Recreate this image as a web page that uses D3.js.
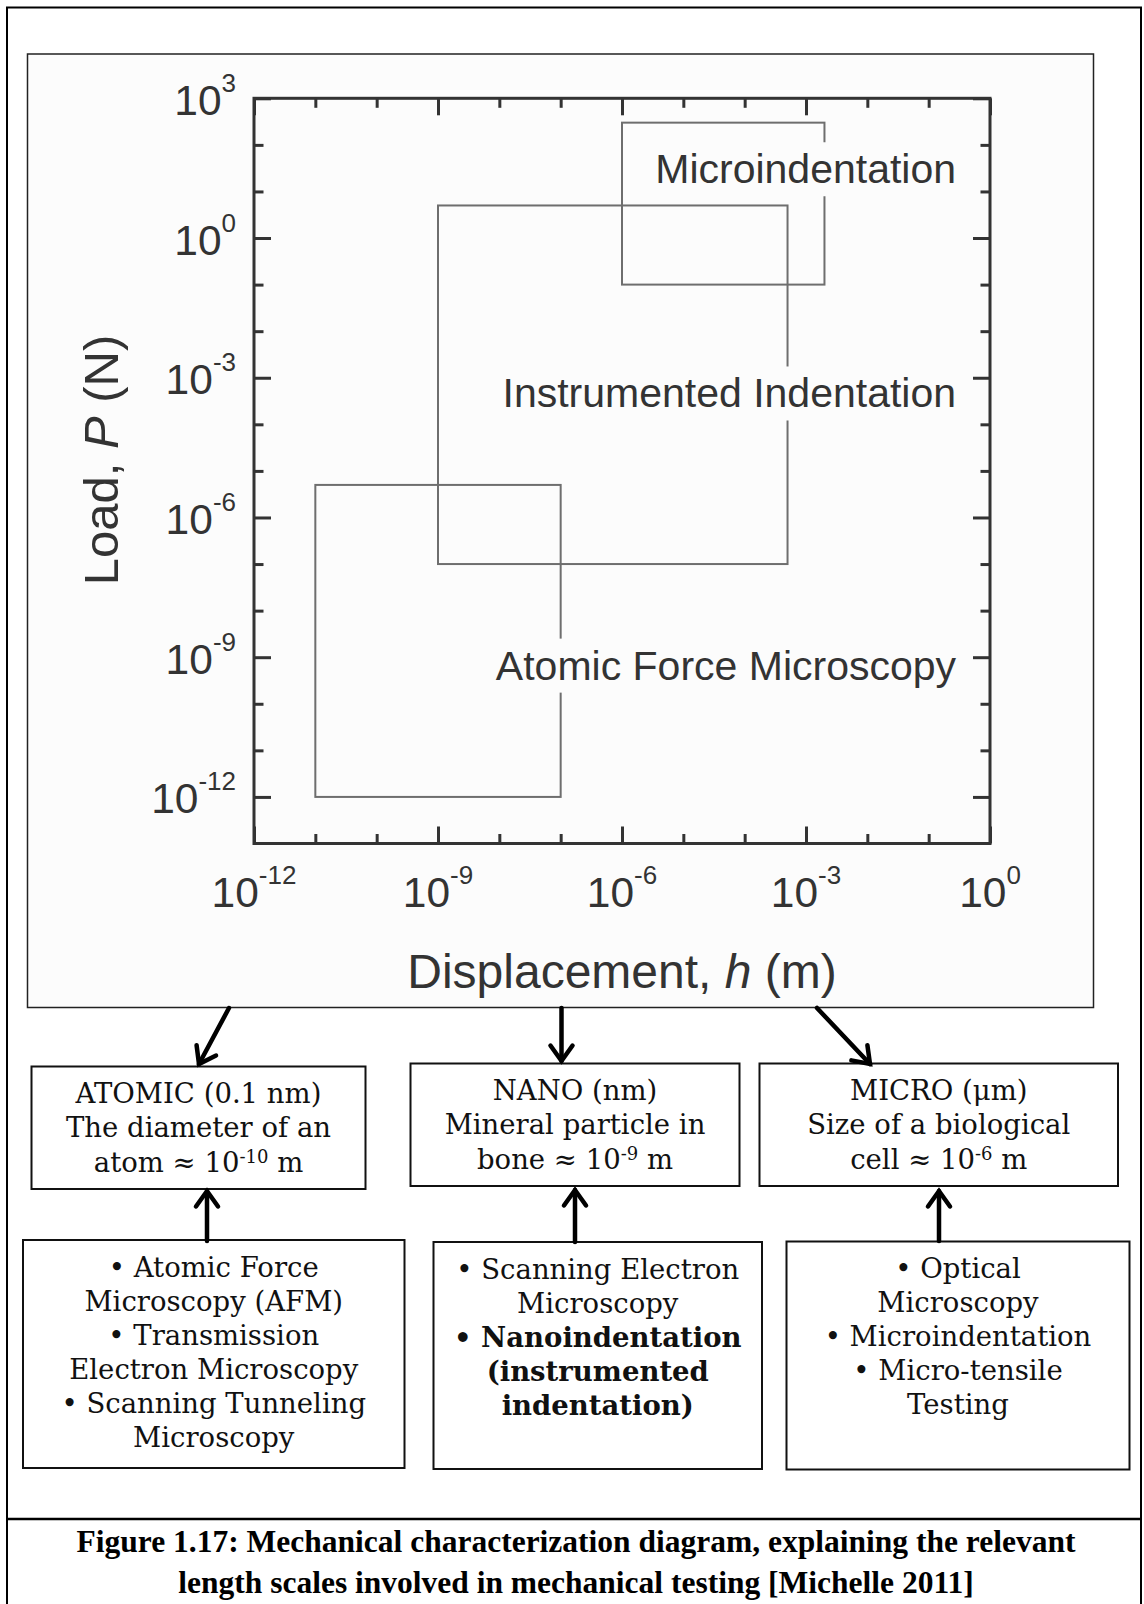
<!DOCTYPE html>
<html>
<head>
<meta charset="utf-8">
<script src="https://cdn.jsdelivr.net/npm/d3@7"></script>
<style>
  body { margin: 0; background: #fff; }
  svg { display: block; }
</style>
</head>
<body>
<div id="chart"></div>
<script>
// ---- data ----
// measurement regions on the load / displacement map
const regions = ["Atomic Force Microscopy", "Instrumented Indentation", "Microindentation"];
const hMin = [1e-11, 1e-9, 1e-6];     // displacement (m)
const hMax = [1e-7, 5e-4, 2e-3];
const pMin = [1e-12, 1e-7, 1e-1];     // load (N)
const pMax = [5e-6, 5, 300];
const labelP = [3.3e-10, 2.3e-4, 15]; // baseline of each region label
const labelH = 0.28;                  // right end of labels

// tick exponents
const xMajorExp = [-12, -9, -6, -3, 0];
const xMinorExp = [-11, -10, -8, -7, -5, -4, -2, -1];
const yMajorExp = [-12, -9, -6, -3, 0, 3];
const yMinorExp = [2, 1, -1, -2, -4, -5, -7, -8, -10, -11];

// length scale boxes
const scaleNames = ["ATOMIC (0.1 nm)", "NANO (nm)", "MICRO (\u03bcm)"];
const scaleLine2 = ["The diameter of an", "Mineral particle in", "Size of a biological"];
const scaleLine3 = ["atom \u2248 10", "bone \u2248 10", "cell \u2248 10"];
const scaleExp = ["-10", "-9", "-6"];

// techniques
const methods = [
  ["\u2022 Atomic Force", "Microscopy (AFM)", "\u2022 Transmission", "Electron Microscopy", "\u2022 Scanning Tunneling", "Microscopy"],
  ["\u2022 Scanning Electron", "Microscopy", "\u2022 Nanoindentation", "(instrumented", "indentation)"],
  ["\u2022 Optical", "Microscopy", "\u2022 Microindentation", "\u2022 Micro-tensile", "Testing"]
];
const methodBold = [[], [2, 3, 4], []];

const caption = [
  "Figure 1.17: Mechanical characterization diagram, explaining the relevant",
  "length scales involved in mechanical testing [Michelle 2011]"
];

// ---- layout ----
const W = 1144, H = 1604;
const sans = "'Liberation Sans', Arial, sans-serif";
const serif = "'DejaVu Serif', serif";
const ink = "#333";
const boxFont = 27.5;

const svg = d3.select("#chart").append("svg")
  .attr("width", W).attr("height", H);

svg.append("rect").attr("width", W).attr("height", H).attr("fill", "#fff");

// outer page border + caption separator
svg.append("path")
  .attr("d", "M7,1604 V7.5 H1141 V1604")
  .attr("fill", "none").attr("stroke", "#000").attr("stroke-width", 2);
svg.append("line")
  .attr("x1", 7).attr("x2", 1141).attr("y1", 1519).attr("y2", 1519)
  .attr("stroke", "#000").attr("stroke-width", 2.5);

// picture frame of the plot
svg.append("rect")
  .attr("x", 27.5).attr("y", 54).attr("width", 1066).attr("height", 953.5)
  .attr("fill", "#fcfcfc").attr("stroke", "#222").attr("stroke-width", 1.5);

// scales
const x = d3.scaleLog().domain([1e-12, 1]).range([254, 990]);
const y = d3.scaleLog().domain([1e-13, 1e3]).range([843.5, 98.3]);
const [x0, x1] = x.range();
const [y0, y1] = y.range();

// axes, ticks pointing inward on all four sides
function addAxis(axisFn, scale, exps, size, tr) {
  svg.append("g")
    .attr("transform", tr)
    .call(axisFn(scale).tickValues(exps.map(e => Math.pow(10, e)))
      .tickSize(size).tickSizeOuter(0).tickFormat(""))
    .call(g => g.select(".domain").remove())
    .call(g => g.selectAll("line").attr("stroke", ink).attr("stroke-width", 3));
}
addAxis(d3.axisBottom, x, xMajorExp, -17, `translate(0,${y0})`);
addAxis(d3.axisBottom, x, xMinorExp, -9.5, `translate(0,${y0})`);
addAxis(d3.axisTop, x, xMajorExp, -17, `translate(0,${y1})`);
addAxis(d3.axisTop, x, xMinorExp, -9.5, `translate(0,${y1})`);
addAxis(d3.axisLeft, y, yMajorExp, -17, `translate(${x0},0)`);
addAxis(d3.axisLeft, y, yMinorExp, -9.5, `translate(${x0},0)`);
addAxis(d3.axisRight, y, yMajorExp, -17, `translate(${x1},0)`);
addAxis(d3.axisRight, y, yMinorExp, -9.5, `translate(${x1},0)`);

svg.append("rect")
  .attr("x", x0).attr("y", y1).attr("width", x1 - x0).attr("height", y0 - y1)
  .attr("fill", "none").attr("stroke", ink).attr("stroke-width", 3);

// tick labels 10^n
function powerLabel(sel, e) {
  sel.append("tspan").text("10");
  sel.append("tspan").attr("dy", -23).attr("font-size", 26).text(e);
}
xMajorExp.forEach(e => {
  svg.append("text")
    .attr("x", x(Math.pow(10, e))).attr("y", 907)
    .attr("text-anchor", "middle")
    .attr("font-family", sans).attr("font-size", 42.5).attr("fill", ink)
    .call(powerLabel, e);
});
yMajorExp.forEach(e => {
  svg.append("text")
    .attr("x", x0 - 18).attr("y", y(Math.pow(10, e)) + 16.5)
    .attr("text-anchor", "end")
    .attr("font-family", sans).attr("font-size", 42.5).attr("fill", ink)
    .call(powerLabel, e);
});

// axis titles
const yTitle = svg.append("text")
  .attr("transform", "translate(118,460) rotate(-90)")
  .attr("text-anchor", "middle")
  .attr("font-family", sans).attr("font-size", 49).attr("fill", ink);
yTitle.append("tspan").text("Load, ");
yTitle.append("tspan").attr("font-style", "italic").text("P");
yTitle.append("tspan").text(" (N)");

const xTitle = svg.append("text")
  .attr("x", (x0 + x1) / 2).attr("y", 988)
  .attr("text-anchor", "middle")
  .attr("font-family", sans).attr("font-size", 48).attr("fill", ink);
xTitle.append("tspan").text("Displacement, ");
xTitle.append("tspan").attr("font-style", "italic").text("h");
xTitle.append("tspan").text(" (m)");

// region boxes
svg.append("g").selectAll("rect")
  .data(regions)
  .join("rect")
  .attr("x", (d, i) => x(hMin[i]))
  .attr("y", (d, i) => y(pMax[i]))
  .attr("width", (d, i) => x(hMax[i]) - x(hMin[i]))
  .attr("height", (d, i) => y(pMin[i]) - y(pMax[i]))
  .attr("fill", "none").attr("stroke", "#6e6e6e").attr("stroke-width", 2);

// region labels, each on a patch of background that breaks the box edge
regions.forEach((name, i) => {
  const g = svg.append("g");
  const t = g.append("text")
    .attr("x", x(labelH)).attr("y", y(labelP[i]))
    .attr("text-anchor", "end")
    .attr("font-family", sans).attr("font-size", 41).attr("fill", ink)
    .text(name);
  const b = t.node().getBBox();
  g.insert("rect", "text")
    .attr("x", b.x - 6).attr("y", b.y - 4)
    .attr("width", b.width + 12).attr("height", b.height + 8)
    .attr("fill", "#fcfcfc");
});

// ---- length scale boxes ----
const scaleBoxes = [
  {x: 31.5, y: 1066.5, w: 334, h: 122.5},
  {x: 410.5, y: 1063.5, w: 329, h: 122.5},
  {x: 759.5, y: 1063.5, w: 358.5, h: 122.5}
];
const methodBoxes = [
  {x: 23, y: 1240, w: 381.5, h: 228},
  {x: 433.5, y: 1242, w: 328.5, h: 227},
  {x: 786.5, y: 1241.5, w: 343, h: 228}
];

scaleBoxes.forEach((b, i) => {
  svg.append("rect").attr("x", b.x).attr("y", b.y).attr("width", b.w).attr("height", b.h)
    .attr("fill", "#fff").attr("stroke", "#111").attr("stroke-width", 2);
  const cx = b.x + b.w / 2;
  const t = svg.append("text").attr("text-anchor", "middle")
    .attr("font-family", serif).attr("font-size", boxFont).attr("fill", "#111");
  t.append("tspan").attr("x", cx).attr("y", b.y + 36.5).text(scaleNames[i]);
  t.append("tspan").attr("x", cx).attr("y", b.y + 70.5).text(scaleLine2[i]);
  const t3 = svg.append("text").attr("x", cx).attr("y", b.y + 105)
    .attr("text-anchor", "middle")
    .attr("font-family", serif).attr("font-size", boxFont).attr("fill", "#111");
  t3.append("tspan").text(scaleLine3[i]);
  t3.append("tspan").attr("dy", -9).attr("font-size", 18).text(scaleExp[i]);
  t3.append("tspan").attr("dy", 9).text(" m");
});

methodBoxes.forEach((b, i) => {
  svg.append("rect").attr("x", b.x).attr("y", b.y).attr("width", b.w).attr("height", b.h)
    .attr("fill", "#fff").attr("stroke", "#111").attr("stroke-width", 2);
  const cx = b.x + b.w / 2;
  methods[i].forEach((line, j) => {
    svg.append("text")
      .attr("x", cx).attr("y", b.y + 36.7 + j * 34)
      .attr("text-anchor", "middle")
      .attr("font-family", serif).attr("font-size", boxFont)
      .attr("font-weight", methodBold[i].includes(j) ? "bold" : "normal")
      .attr("fill", "#111")
      .text(line);
  });
});

// arrows
const arrows = [
  [229, 1008, 199, 1064],
  [561.5, 1008, 561.5, 1061],
  [817, 1008, 870, 1064],
  [207, 1241, 207, 1191],
  [575, 1242, 575, 1190],
  [939, 1241, 939, 1191]
];
arrows.forEach(([ax, ay, bx, by]) => {
  const ang = Math.atan2(by - ay, bx - ax);
  const len = 19, spread = 0.62;
  const g = svg.append("g").attr("stroke", "#000").attr("stroke-width", 4.5)
    .attr("stroke-linecap", "round").attr("fill", "none");
  g.append("line").attr("x1", ax).attr("y1", ay).attr("x2", bx).attr("y2", by);
  const p = [ang + Math.PI - spread, ang + Math.PI + spread]
    .map(a => [bx + len * Math.cos(a), by + len * Math.sin(a)]);
  g.append("path")
    .attr("stroke-linejoin", "miter")
    .attr("d", `M${p[0][0]},${p[0][1]} L${bx},${by} L${p[1][0]},${p[1][1]}`);
});

// caption
caption.forEach((line, i) => {
  svg.append("text")
    .attr("x", 576).attr("y", 1551.5 + i * 41)
    .attr("text-anchor", "middle")
    .attr("font-family", "'Liberation Serif', 'Times New Roman', serif")
    .attr("font-weight", "bold").attr("font-size", 31.5).attr("fill", "#000")
    .text(line);
});
</script>
</body>
</html>
